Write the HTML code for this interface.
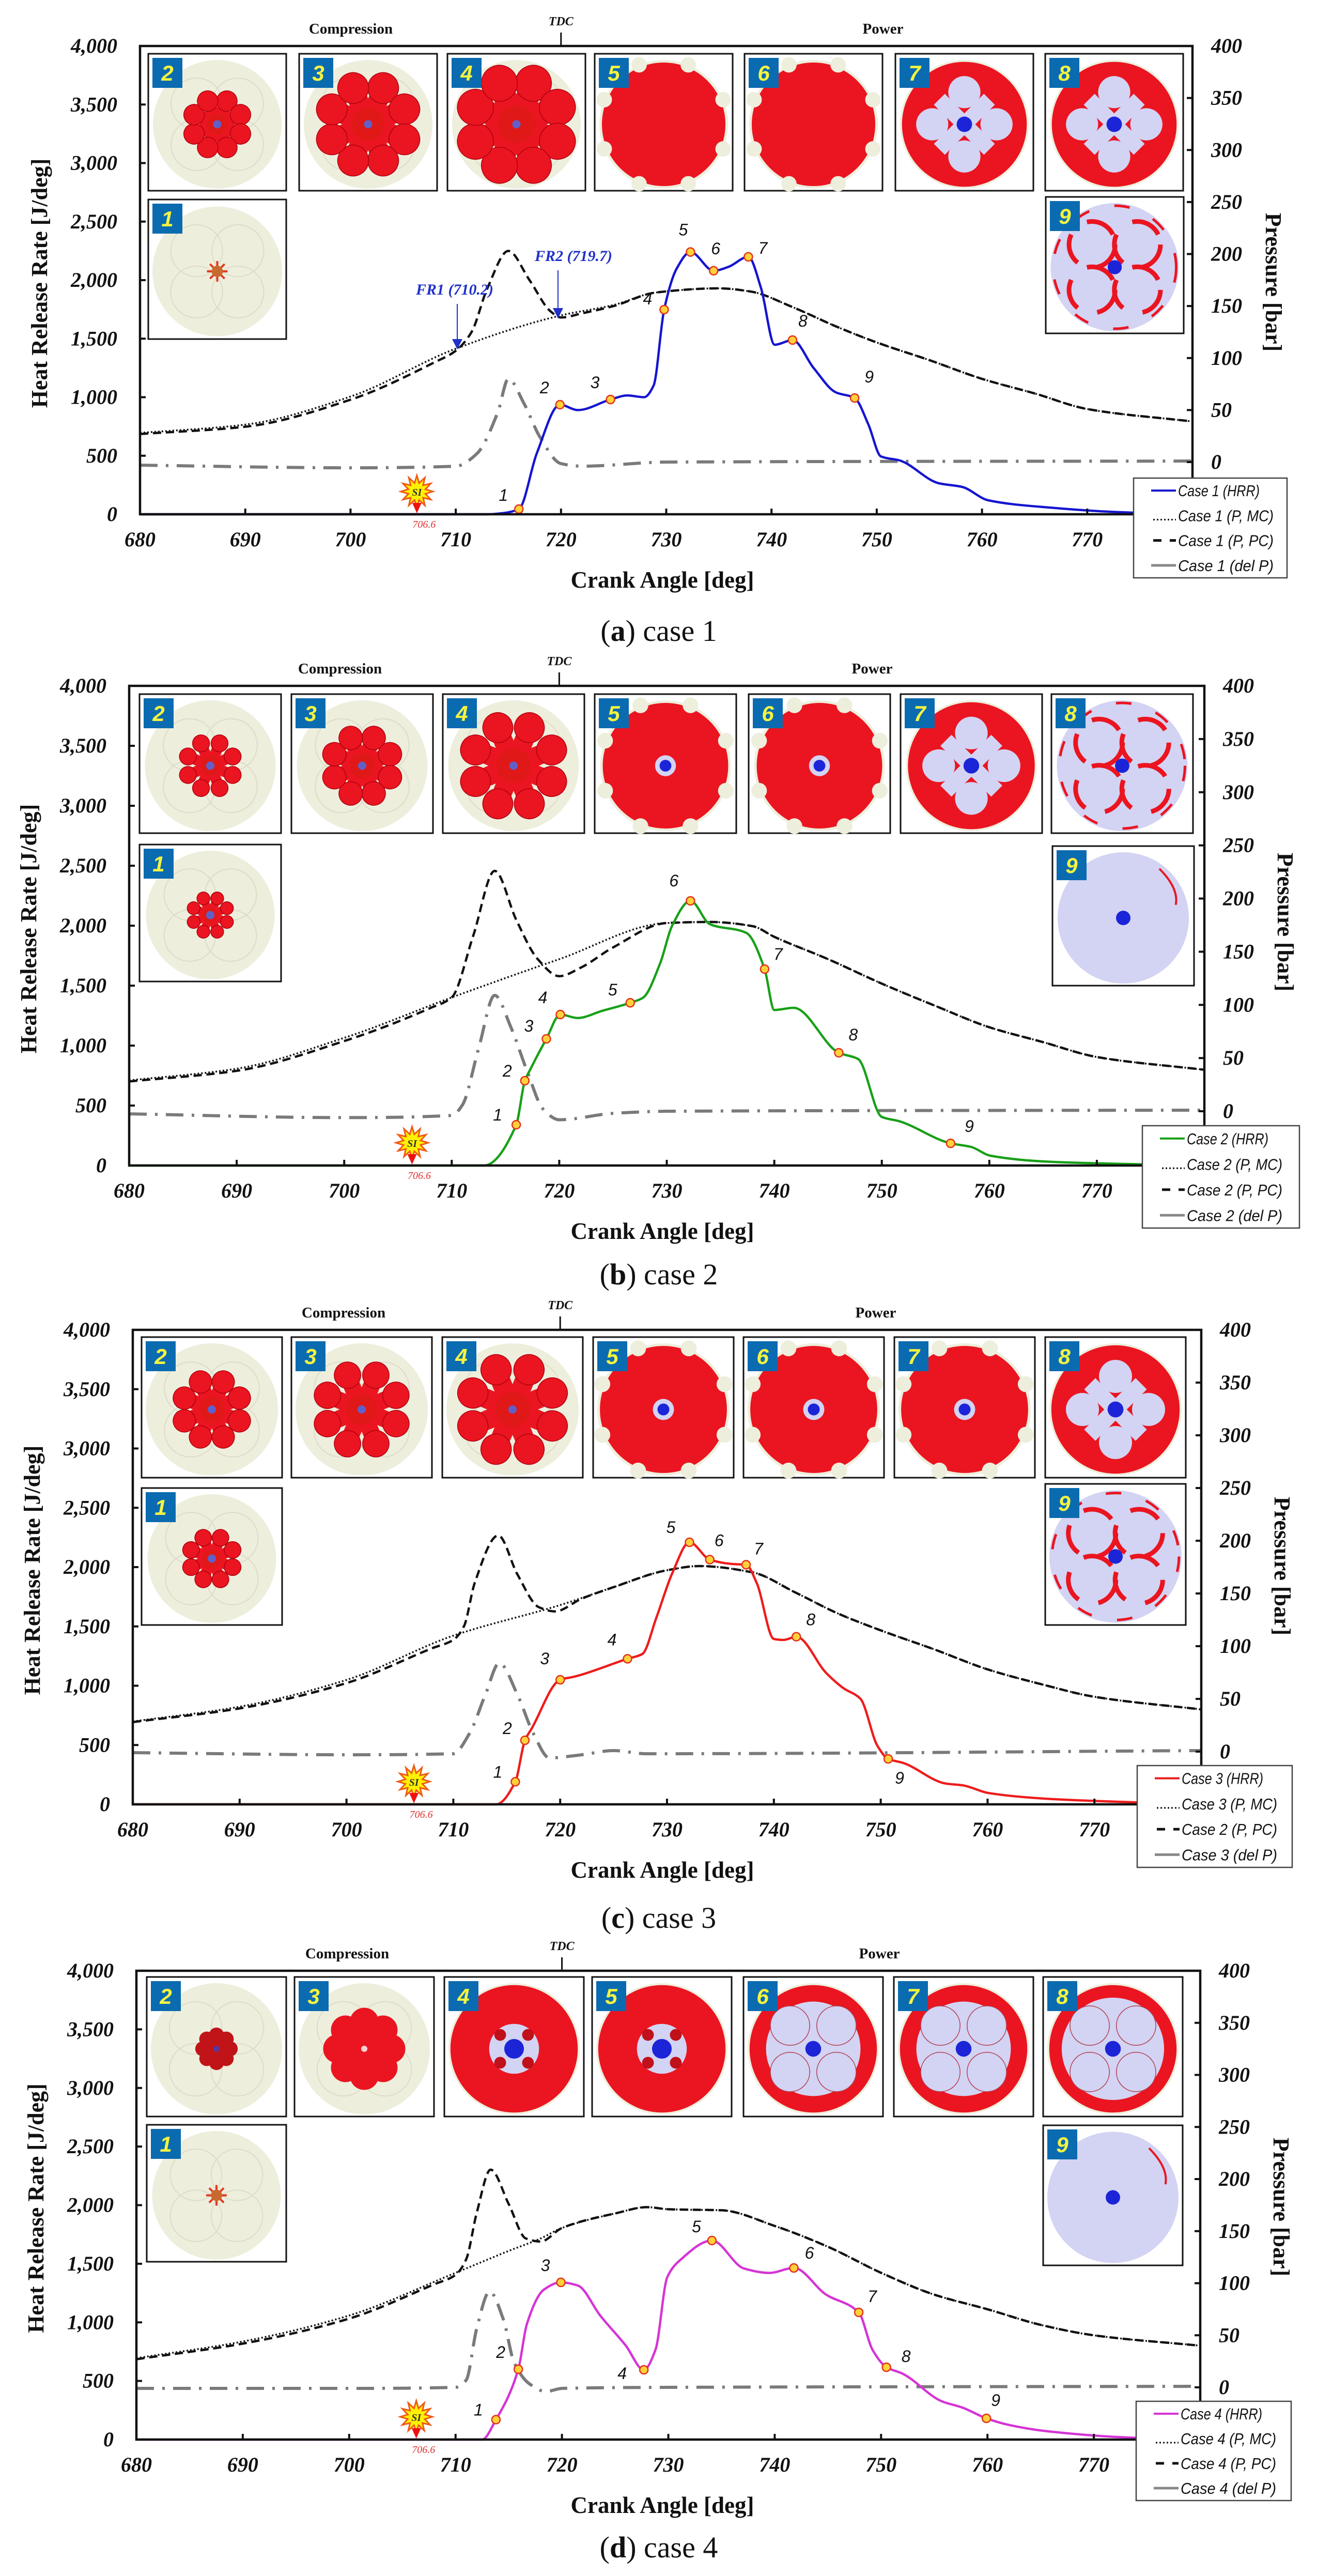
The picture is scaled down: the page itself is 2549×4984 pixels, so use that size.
<!DOCTYPE html>
<html><head><meta charset="utf-8">
<style>
html,body{margin:0;padding:0;background:#fff;}
svg{display:block;}
</style></head>
<body>
<svg id="fig" xmlns="http://www.w3.org/2000/svg" width="2549" height="4984" viewBox="0 0 2549 4984">
<rect x="0" y="0" width="2549" height="4984" fill="#ffffff"/>
</svg>
<script>
// ---------- DATA ----------
// Case 1
const hrr1Deg = [680,713,714.5,716,717.7,719.9,721.6,724.7,726.3,727.9,728.8,729.8,731,732.3,734.5,735.9,737.8,739,740.3,742,744,746.1,747.9,749.2,750.4,752.2,755.9,758.1,760.6,766.5,773,780];
const hrr1Val = [0,0,10,44,520,936,890,980,1015,1000,1100,1748,2100,2240,2080,2113,2199,1934,1448,1488,1250,1042,993,768,494,459,265,234,119,57,18,0];
const mark1Deg = [716,719.9,724.7,729.8,732.3,734.5,737.8,742,747.9];
const mark1Val = [44,936,980,1748,2240,2080,2199,1488,993];
const pmc1Deg = [680,690,700,710,720,725,729,735,738,742,746,750,755,760,765,770,780];
const pmc1Val = [28,36,63,109,141,151,163,167,164,149,131,115,98,80,66,51,39];
const ppc1Deg = [680,690,700,708,710,711.5,713,715,717,719,720,722,725,729,735,738,742,746,750,755,760,765,770,780];
const ppc1Val = [27,34,60,96,107,125,167,203,175,145,139,143,150,163,167,164,149,131,115,98,80,66,51,39];
const dp1Deg = [680,700,710,712,714,715,716.5,718,720,722,730,780];
const dp1Val = [-3,-5.5,-4,8,48,80,56,24,-1.5,-4,0,1];
// Case 2
const hrr2Deg = [680,713,716,716.8,717.3,718.8,720.1,721.7,724,726.6,727.8,729.4,730.5,732.2,734,737.4,739.1,740,741.8,746,747.8,750,751.6,756.4,758.3,760.1,765.9,780];
const hrr2Val = [0,0,340,707,800,1056,1259,1230,1290,1357,1400,1690,2000,2207,2013,1940,1638,1297,1315,940,888,405,370,185,155,82,30,0];
const mark2Deg = [716,716.8,718.8,720.1,726.6,732.2,739.1,746,756.4];
const mark2Val = [340,707,1056,1259,1357,2207,1638,940,185];
const pmc2Deg = [680,690,700,710,720,730,734,738,740,745,750,755,760,765,770,780];
const pmc2Val = [29,40,69,107,143,177,178,174,164,143,120,99,79,65,51,39];
const ppc2Deg = [680,690,700,708,710,712,714,716,718,720,722,725,730,734,738,740,745,750,755,760,765,770,780];
const ppc2Val = [28,38,66,97,107,165,226,180,143,127,135,154,177,178,174,164,143,120,99,79,65,51,39];
const dp2Deg = [680,700,710,711,712.5,714,715.5,717,718.5,720,725,730,780];
const dp2Val = [-2.5,-6,-4,6,59,109,79,38,2,-8,-2,0,1];
// Case 3
const hrr3Deg = [680,714,715.8,716.7,717.3,720,721.3,726.3,727.7,729,730.5,732.1,734,736.1,737.4,738.4,740,740.9,742.1,744.9,746.5,748.1,749.7,750.7,752.1,756.1,757.7,760.1,766.1,780];
const hrr3Val = [0,0,190,540,634,1050,1076,1227,1268,1573,1950,2209,2063,2026,2020,1865,1394,1386,1413,1107,980,890,492,383,349,175,160,95,44,0];
const mark3Deg = [715.8,716.7,720,726.3,732.1,734,737.4,742.1,750.7];
const mark3Val = [190,540,1050,1227,2209,2063,2020,1413,383];
const pmc3Deg = [680,690,700,710,720,725,730,733,738,742,746,750,755,760,765,770,780];
const pmc3Val = [28.6,42.6,68,110,139,156,172,176,170,151,131,115,97,78,64,52,40];
const ppc3Deg = [680,690,700,708,710,711,712,714.2,716,718,719.5,722,725,730,733,738,742,746,750,755,760,765,770,780];
const ppc3Val = [28,41,65,98,106,119,160,205,168,137,133,145,156,172,176,170,151,131,115,97,78,64,52,40];
const dp3Deg = [680,700,710,711.5,713,714.3,716,717.5,719,722,725,728,780];
const dp3Val = [-1,-3,-2,17,54,84,54,17,-6,-3,1,-2,1];
// Case 4
const hrr4Deg = [680,712.5,713.8,715.9,716.7,718.3,719.9,721.5,723.6,726,727.7,728.8,729.9,731.1,734.1,737.1,739.5,741.8,744.8,747.9,749.2,750.5,752,755.7,757.7,759.9,762.1,765.7,773.8,780];
const hrr4Val = [0,0,170,600,985,1279,1341,1314,1058,802,595,768,1385,1530,1698,1460,1422,1464,1239,1085,765,617,563,327,271,181,123,70,15,0];
const mark4Deg = [713.8,715.9,719.9,727.7,734.1,741.8,747.9,750.5,759.9];
const mark4Val = [170,600,1341,595,1698,1464,1085,617,181];
const pmc4Deg = [680,690,700,710,715,718,720,725,728,730,735,740,745,750,755,760,765,770,780];
const pmc4Val = [28,44,69,110,131,143,153,167,173,171,170,155,135,110,89,75,60,50,40];
const ppc4Deg = [680,690,700,708,710,711,712,713.3,715,716.6,718,720,725,728,730,735,740,745,750,755,760,765,770,780];
const ppc4Val = [27,42,66,99,108,123,168,209,176,143,140,153,167,173,171,170,155,135,110,89,75,60,50,40];
const dp4Deg = [680,700,710,711,712,713.2,714.5,715.5,717,718.5,720,730,780];
const dp4Val = [-1,-1,0,7,57,92,65,24,3,-4,-1,0,1];

const xTicks = [680,690,700,710,720,730,740,750,760,770];
const hrrTicks = [0,500,1000,1500,2000,2500,3000,3500,4000];
const hrrTickLabels = ["0","500","1,000","1,500","2,000","2,500","3,000","3,500","4,000"];
const pTicks = [0,50,100,150,200,250,300,350,400];
const siDeg = 706.6;

// ---------- LAYOUT ----------
const NS = "http://www.w3.org/2000/svg";
const svg = document.getElementById('fig');
function el(tag, attrs, parent, text){
  const e = document.createElementNS(NS, tag);
  for (const k in attrs) e.setAttribute(k, attrs[k]);
  if (text !== undefined) e.textContent = text;
  (parent || svg).appendChild(e);
  return e;
}
const panels = [
 {id:'a', L:271, R:2308, T:89, B:995, P0:894, cap:1220, color:'#1515d0', hrr:[hrr1Deg,hrr1Val], mk:[mark1Deg,mark1Val], mc:[pmc1Deg,pmc1Val], pc:[ppc1Deg,ppc1Val], dp:[dp1Deg,dp1Val],
  leg:['Case 1 (HRR)','Case 1 (P, MC)','Case 1 (P, PC)','Case 1 (del P)'], legBox:[2194,925,297,193],
  rowY:104, rowH:265, xs:[287,579,866,1151,1441,1733,2023], bw:267, b1Y:386, b1H:270, b9X:2024, b9Y:381, b9H:264,
  kinds:['star','pet:.55:.32','pet:.85:.48','pet:.97:.56','full','full','ringsR','ringsR','ringsL']},
 {id:'b', L:250, R:2331, T:1327, B:2255, P0:2150, cap:2465, color:'#18a018', hrr:[hrr2Deg,hrr2Val], mk:[mark2Deg,mark2Val], mc:[pmc2Deg,pmc2Val], pc:[ppc2Deg,ppc2Val], dp:[dp2Deg,dp2Val],
  leg:['Case 2 (HRR)','Case 2 (P, MC)','Case 2 (P, PC)','Case 2 (del P)'], legBox:[2211,2178,304,198],
  rowY:1343, rowH:269, xs:[270,564,857,1151,1449,1743,2035], bw:274, b1Y:1634, b1H:265, b9X:2037, b9Y:1637, b9H:270,
  kinds:['pet:.38:.2','pet:.5:.26','pet:.64:.36','pet:.86:.46','fullc','fullc','ringsR','ringsL','lav']},
 {id:'c', L:257, R:2325, T:2573, B:3491, P0:3389, cap:3710, color:'#ee1c1c', hrr:[hrr3Deg,hrr3Val], mk:[mark3Deg,mark3Val], mc:[pmc3Deg,pmc3Val], pc:[ppc3Deg,ppc3Val], dp:[dp3Deg,dp3Val],
  leg:['Case 3 (HRR)','Case 3 (P, MC)','Case 2 (P, PC)','Case 3 (del P)'], legBox:[2201,3416,300,197],
  rowY:2587, rowH:272, xs:[274,564,856,1148,1439,1731,2023], bw:272, b1Y:2879, b1H:265, b9X:2023, b9Y:2871, b9H:273,
  kinds:['pet:.48:.26','pet:.62:.34','pet:.76:.4','pet:.88:.46','fullc','fullc','fullc','ringsR','ringsL']},
 {id:'d', L:264, R:2323, T:3813, B:4720, P0:4619, cap:4928, color:'#d534d5', hrr:[hrr4Deg,hrr4Val], mk:[mark4Deg,mark4Val], mc:[pmc4Deg,pmc4Val], pc:[ppc4Deg,ppc4Val], dp:[dp4Deg,dp4Val],
  leg:['Case 4 (HRR)','Case 4 (P, MC)','Case 4 (P, PC)','Case 4 (del P)'], legBox:[2199,4646,300,192],
  rowY:3825, rowH:270, xs:[284,570,860,1146,1439,1730,2019], bw:270, b1Y:4111, b1H:265, b9X:2019, b9Y:4112, b9H:271,
  kinds:['star','blob:.3','blob:.58','redring','redring','ring4','ring4','ring4b','lav']}
];
const labelOff = {
 a:[[-30,-16],[-30,-22],[-30,-22],[-32,-10],[-14,-32],[4,-32],[28,-6],[20,-26],[28,-30]],
 b:[[-36,-8],[-34,-8],[-34,-14],[-34,-22],[-34,-14],[-32,-28],[26,-18],[28,-24],[36,-22]],
 c:[[-34,-8],[-34,-12],[-30,-30],[-30,-26],[-36,-18],[18,-26],[24,-20],[28,-22],[22,48]],
 d:[[-34,-8],[-34,-22],[-30,-22],[-42,18],[-30,-16],[30,-18],[26,-20],[38,-10],[18,-24]]
};

function xs(p,d){ return p.L + (d-680)/100*(p.R-p.L); }
function yh(p,v){ return p.B - v/4000*(p.B-p.T); }
function yp(p,v){ return p.P0 - v/400*(p.P0-p.T); }

// monotone cubic (Fritsch-Carlson) -> no overshoot
function smoothPath(pts){
  const n = pts.length;
  const dx=[], sl=[];
  for (let i=0;i<n-1;i++){ dx.push(pts[i+1][0]-pts[i][0]); sl.push((pts[i+1][1]-pts[i][1])/dx[i]); }
  const m = new Array(n);
  m[0]=sl[0]; m[n-1]=sl[n-2];
  for (let i=1;i<n-1;i++){
    if (sl[i-1]*sl[i] <= 0) m[i]=0;
    else { const w1=2*dx[i]+dx[i-1], w2=dx[i]+2*dx[i-1]; m[i]=(w1+w2)/(w1/sl[i-1]+w2/sl[i]); }
  }
  let d = 'M'+pts[0][0].toFixed(1)+','+pts[0][1].toFixed(1);
  for (let i=0;i<n-1;i++){
    const h=dx[i];
    const c1=[pts[i][0]+h/3, pts[i][1]+m[i]*h/3];
    const c2=[pts[i+1][0]-h/3, pts[i+1][1]-m[i+1]*h/3];
    d += ' C'+c1[0].toFixed(1)+','+c1[1].toFixed(1)+' '+c2[0].toFixed(1)+','+c2[1].toFixed(1)+' '+pts[i+1][0].toFixed(1)+','+pts[i+1][1].toFixed(1);
  }
  return d;
}

const SERIF = '"Liberation Serif", serif';
const SANS = '"Liberation Sans", sans-serif';
const RED='#ea1520', LAV='#d3d3f3', CREAM='#eeeedd', BLUE='#1c24d8';

function drawInset(g, x, y, w, h, num, kind){
  el('rect',{x:x,y:y,width:w,height:h,fill:'#fff',stroke:'#111','stroke-width':3},g);
  const cx=x+w/2, cy=y+h/2+4, R=Math.min(w,h)/2-8;
  const parts = kind.split(':');
  const k = parts[0];
  const bg = (k==='lav'||k==='ringsL') ? LAV : CREAM;
  el('circle',{cx:cx,cy:cy,r:R,fill:bg},g);
  if (bg===CREAM){
    for (let i=0;i<4;i++){ const a=Math.PI/4+i*Math.PI/2;
      el('circle',{cx:cx+Math.cos(a)*R*0.45,cy:cy+Math.sin(a)*R*0.45,r:R*0.4,fill:'none',stroke:'#dcdcc8','stroke-width':2},g); }
  }
  if (k==='star'){
    for (let i=0;i<8;i++){ const a=i*Math.PI/4;
      el('line',{x1:cx,y1:cy,x2:cx+Math.cos(a)*20,y2:cy+Math.sin(a)*20,stroke:'#e23a20','stroke-width':4},g);}
    el('circle',{cx:cx,cy:cy,r:11,fill:'#c86a30'},g);
  } else if (k==='pet'){
    const L=parseFloat(parts[1])*R, W=parseFloat(parts[2])*R;
    for (let i=0;i<8;i++){
      const tr='rotate('+(i*45+22.5)+' '+cx+' '+cy+')';
      el('ellipse',{cx:cx,cy:cy-L*0.45,rx:W*0.32,ry:L*0.45,fill:RED,transform:tr},g);
      el('circle',{cx:cx,cy:cy-L+W*0.5,r:W*0.5,fill:RED,stroke:'#b00010','stroke-width':1.5,transform:tr},g);
    }
    el('circle',{cx:cx,cy:cy,r:Math.max(12,L*0.3),fill:'#e01818'},g);
    el('circle',{cx:cx,cy:cy,r:8,fill:'#6060c8'},g);
  } else if (k==='full' || k==='fullc'){
    el('circle',{cx:cx,cy:cy,r:R*0.96,fill:RED},g);
    for (let i=0;i<8;i++){ const a=i*Math.PI/4+Math.PI/8;
      el('circle',{cx:cx+Math.cos(a)*R*1.0,cy:cy+Math.sin(a)*R*1.0,r:R*0.12,fill:CREAM},g);}
    if (k==='fullc'){ el('circle',{cx:cx,cy:cy,r:R*0.16,fill:LAV},g); el('circle',{cx:cx,cy:cy,r:R*0.09,fill:BLUE},g);}
  } else if (k==='ringsR'){
    el('circle',{cx:cx,cy:cy,r:R*0.97,fill:RED},g);
    el('rect',{x:cx-R*0.55,y:cy-R*0.12,width:R*1.1,height:R*0.24,fill:LAV,transform:'rotate(45 '+cx+' '+cy+')'},g);
    el('rect',{x:cx-R*0.55,y:cy-R*0.12,width:R*1.1,height:R*0.24,fill:LAV,transform:'rotate(-45 '+cx+' '+cy+')'},g);
    for (let i=0;i<4;i++){ const a=i*Math.PI/2;
      el('circle',{cx:cx+Math.cos(a)*R*0.5,cy:cy+Math.sin(a)*R*0.5,r:R*0.25,fill:LAV},g);}
    el('circle',{cx:cx,cy:cy,r:R*0.12,fill:BLUE},g);
  } else if (k==='ringsL'){
    for (let i=0;i<4;i++){ const a=Math.PI/4+i*Math.PI/2;
      el('circle',{cx:cx+Math.cos(a)*R*0.5,cy:cy+Math.sin(a)*R*0.5,r:R*0.36,fill:'none',stroke:RED,'stroke-width':9,'stroke-dasharray':'60 40'},g);}
    el('circle',{cx:cx,cy:cy,r:R*0.96,fill:'none',stroke:RED,'stroke-width':5,'stroke-dasharray':'30 50'},g);
    el('circle',{cx:cx,cy:cy,r:R*0.11,fill:BLUE},g);
  } else if (k==='lav'){
    el('circle',{cx:cx,cy:cy,r:R*0.11,fill:BLUE},g);
    el('path',{d:'M'+(cx+R*0.55)+','+(cy-R*0.75)+' q'+(R*0.3)+','+(R*0.3)+' '+(R*0.25)+','+(R*0.55),fill:'none',stroke:RED,'stroke-width':4},g);
  } else if (k==='blob'){
    const r=parseFloat(parts[1])*R;
    for (let i=0;i<8;i++){ const a=i*Math.PI/4;
      el('circle',{cx:cx+Math.cos(a)*r*0.7,cy:cy+Math.sin(a)*r*0.7,r:r*0.38,fill:(r<R*0.4?'#c01418':RED)},g);}
    el('circle',{cx:cx,cy:cy,r:r*0.78,fill:(r<R*0.4?'#c01418':RED)},g);
    el('circle',{cx:cx,cy:cy,r:6,fill:(r<R*0.4?'#4040c0':'#fff'),opacity:0.8},g);
  } else if (k==='redring'){
    el('circle',{cx:cx,cy:cy,r:R*0.97,fill:RED},g);
    el('circle',{cx:cx,cy:cy,r:R*0.38,fill:LAV},g);
    for (let i=0;i<4;i++){ const a=Math.PI/4+i*Math.PI/2;
      el('circle',{cx:cx+Math.cos(a)*R*0.3,cy:cy+Math.sin(a)*R*0.3,r:R*0.09,fill:'#c0101a'},g);}
    el('circle',{cx:cx,cy:cy,r:R*0.15,fill:BLUE},g);
  } else if (k==='ring4' || k==='ring4b'){
    el('circle',{cx:cx,cy:cy,r:R*0.97,fill:RED},g);
    const rr = k==='ring4b'?0.78:0.72;
    el('circle',{cx:cx,cy:cy,r:R*rr,fill:LAV},g);
    for (let i=0;i<4;i++){ const a=Math.PI/4+i*Math.PI/2;
      el('circle',{cx:cx+Math.cos(a)*R*0.5,cy:cy+Math.sin(a)*R*0.5,r:R*0.3,fill:LAV,stroke:'#b04050','stroke-width':1.5},g);}
    el('circle',{cx:cx,cy:cy,r:R*0.12,fill:BLUE},g);
  }
  el('rect',{x:x+8,y:y+8,width:58,height:58,fill:'#0b6bb0'},g);
  el('text',{x:x+37,y:y+52,'text-anchor':'middle','font-family':SANS,'font-size':42,'font-weight':'bold','font-style':'italic',fill:'#f4f440'},g,String(num));
}

panels.forEach((p, pi) => {
  const g = el('g',{});
  
  

  const ig = el('g',{},g);
  
  
  for (let i=0;i<7;i++) drawInset(ig, p.xs[i], p.rowY, p.bw, p.rowH, i+2, p.kinds[i+1]);
  drawInset(ig, p.xs[0], p.b1Y, p.bw, p.b1H, 1, p.kinds[0]);
  drawInset(ig, p.b9X, p.b9Y, p.bw, p.b9H, 9, p.kinds[8]);

  const sg = el('g',{},g);
  
  
  const ptsDp = p.dp[0].map((d,i)=>[xs(p,d), yp(p,p.dp[1][i])]);
  const dpl = el('path',{d:smoothPath(ptsDp),fill:'none',stroke:'#7a7a7a','stroke-width':6,'stroke-dasharray':'34 16 5 16'},sg);
  
  
  const ptsPc = p.pc[0].map((d,i)=>[xs(p,d), yp(p,p.pc[1][i])]);
  const pcl = el('path',{d:smoothPath(ptsPc),fill:'none',stroke:'#111','stroke-width':4.5,'stroke-dasharray':'16 9'},sg);
  
  
  const ptsMc = p.mc[0].map((d,i)=>[xs(p,d), yp(p,p.mc[1][i])]);
  const mcl = el('path',{d:smoothPath(ptsMc),fill:'none',stroke:'#111','stroke-width':3.5,'stroke-dasharray':'3 4'},sg);
  
  
  const ptsH = p.hrr[0].map((d,i)=>[xs(p,d), yh(p,p.hrr[1][i])]);
  const hl = el('path',{d:smoothPath(ptsH),fill:'none',stroke:p.color,'stroke-width':4.5,'stroke-linejoin':'round'},sg);
  
  
  p.mk[0].forEach((d,i)=>{
    const cx=xs(p,d), cy=yh(p,p.mk[1][i]);
    const m = el('circle',{cx:cx,cy:cy,r:8,fill:'#ffd23a',stroke:'#e2321a','stroke-width':2.5},sg);
    
    
    const o = labelOff[p.id][i];
    const t = el('text',{x:cx+o[0],y:cy+o[1],'text-anchor':'middle','font-family':SANS,'font-size':32,'font-style':'italic',fill:'#111'},sg,String(i+1));
    
    
  });

  const sx = xs(p,siDeg)-6, sy = p.B-44;
  const star=[];
  for (let i=0;i<24;i++){ const a=i*Math.PI/12; const r=(i%2? 17:31); star.push((sx+Math.cos(a)*r).toFixed(1)+','+(sy+Math.sin(a)*r).toFixed(1)); }
  const si = el('polygon',{points:star.join(' '),fill:'#fff200',stroke:'#f05a14','stroke-width':3},g);
  
  
  el('text',{x:sx,y:sy+8,'text-anchor':'middle','font-family':SERIF,'font-size':20,'font-weight':'bold','font-style':'italic',fill:'#333'},g,'SI');
  el('polygon',{points:(sx-9)+','+(sy+22)+' '+(sx+9)+','+(sy+22)+' '+sx+','+(sy+42),fill:'#f01010'},g);
  el('text',{x:sx+14,y:p.B+26,'text-anchor':'middle','font-family':SERIF,'font-size':20,'font-style':'italic',fill:'#e03030'},g,'706.6');

  const ax = el('rect',{x:p.L,y:p.T,width:p.R-p.L,height:p.B-p.T,fill:'none',stroke:'#111','stroke-width':4.5},g);
  
  

  xTicks.forEach(v=>{
    const x=xs(p,v);
    if (v>680) el('line',{x1:x,y1:p.B,x2:x,y2:p.B-11,stroke:'#111','stroke-width':4},g);
    const t=el('text',{x:x,y:p.B+62,'text-anchor':'middle','font-family':SERIF,'font-size':40,'font-weight':'bold','font-style':'italic',fill:'#111'},g,String(v));
    
    
  });
  hrrTicks.forEach((v,i)=>{
    const y=yh(p,v);
    el('line',{x1:p.L,y1:y,x2:p.L+11,y2:y,stroke:'#111','stroke-width':4},g);
    const t=el('text',{x:p.L-44,y:y+13,'text-anchor':'end','font-family':SERIF,'font-size':40,'font-weight':'bold','font-style':'italic',fill:'#111'},g,hrrTickLabels[i]);
    
    
  });
  pTicks.forEach(v=>{
    const y=yp(p,v);
    el('line',{x1:p.R,y1:y,x2:p.R-11,y2:y,stroke:'#111','stroke-width':4},g);
    const t=el('text',{x:p.R+36,y:y+13,'text-anchor':'start','font-family':SERIF,'font-size':40,'font-weight':'bold','font-style':'italic',fill:'#111'},g,String(v));
    
    
  });
  const tdcX = xs(p,720);
  el('line',{x1:tdcX,y1:p.T,x2:tdcX,y2:p.T-26,stroke:'#111','stroke-width':3},g);
  el('text',{x:tdcX,y:p.T-40,'text-anchor':'middle','font-family':SERIF,'font-size':24,'font-weight':'bold','font-style':'italic',fill:'#111'},g,'TDC');
  el('text',{x:p.L+408,y:p.T-24,'text-anchor':'middle','font-family':SERIF,'font-size':29,'font-weight':'bold',fill:'#111'},g,'Compression');
  el('text',{x:p.L+1438,y:p.T-24,'text-anchor':'middle','font-family':SERIF,'font-size':29,'font-weight':'bold',fill:'#111'},g,'Power');

  const cyMid = (p.T+p.B)/2 + 6;
  const yt = el('text',{x:0,y:0,'text-anchor':'middle','font-family':SERIF,'font-size':44,'font-weight':'bold',fill:'#111',transform:'translate('+(p.L-180)+','+cyMid+') rotate(-90)'},g,'Heat Release Rate [J/deg]');
  
  
  const yt2 = el('text',{x:0,y:0,'text-anchor':'middle','font-family':SERIF,'font-size':44,'font-weight':'bold',fill:'#111',transform:'translate('+(p.R+142)+','+(p.T+457)+') rotate(90)'},g,'Pressure [bar]');
  
  
  const xt = el('text',{x:1282,y:p.B+142,'text-anchor':'middle','font-family':SERIF,'font-size':45,'font-weight':'bold',fill:'#111'},g,'Crank Angle [deg]');
  
  

  const cap = el('text',{x:1275,y:p.cap+20,'text-anchor':'middle','font-family':SERIF,'font-size':58,fill:'#111'},g);
  
  
  el('tspan',{},cap,'(');
  el('tspan',{'font-weight':'bold'},cap,p.id);
  el('tspan',{},cap,') case '+(pi+1));

  const lb = p.legBox;
  const lg = el('g',{},g);
  
  
  el('rect',{x:lb[0],y:lb[1],width:lb[2],height:lb[3],fill:'#fff',stroke:'#444','stroke-width':2.5},lg);
  const rowStep = lb[3]/4;
  p.leg.forEach((txt,i)=>{
    const y = lb[1]+rowStep*(i+0.5);
    const x1=lb[0]+34, x2=lb[0]+82;
    if (i===0) el('line',{x1:x1,y1:y,x2:x2,y2:y,stroke:p.color,'stroke-width':4},lg);
    if (i===1) el('line',{x1:x1+4,y1:y+8,x2:x2,y2:y+8,stroke:'#111','stroke-width':3,'stroke-dasharray':'3 4'},lg);
    if (i===2) el('line',{x1:x1+4,y1:y,x2:x2,y2:y,stroke:'#111','stroke-width':5,'stroke-dasharray':'16 16'},lg);
    if (i===3) el('line',{x1:x1,y1:y,x2:x2,y2:y,stroke:'#888','stroke-width':5},lg);
    const t = el('text',{x:lb[0]+86,y:y+11,'font-family':SANS,'font-size':31,'font-style':'italic',fill:'#111',textLength:(txt.length*13.2).toFixed(0),lengthAdjust:'spacingAndGlyphs'},lg,txt);
    
    
  });

  if (p.id==='a'){
    const fr = el('g',{},g);
    
    
    el('text',{x:880,y:570,'text-anchor':'middle','font-family':SERIF,'font-size':30,'font-weight':'bold','font-style':'italic',fill:'#2030c8'},fr,'FR1 (710.2)');
    el('line',{x1:885,y1:588,x2:885,y2:660,stroke:'#2030c8','stroke-width':2},fr);
    el('polygon',{points:'875,656 895,656 885,676',fill:'#2030c8'},fr);
    el('text',{x:1110,y:505,'text-anchor':'middle','font-family':SERIF,'font-size':30,'font-weight':'bold','font-style':'italic',fill:'#2030c8'},fr,'FR2 (719.7)');
    el('line',{x1:1080,y1:523,x2:1080,y2:600,stroke:'#2030c8','stroke-width':2},fr);
    el('polygon',{points:'1070,596 1090,596 1080,616',fill:'#2030c8'},fr);
  }
});
</script>
</body></html>
